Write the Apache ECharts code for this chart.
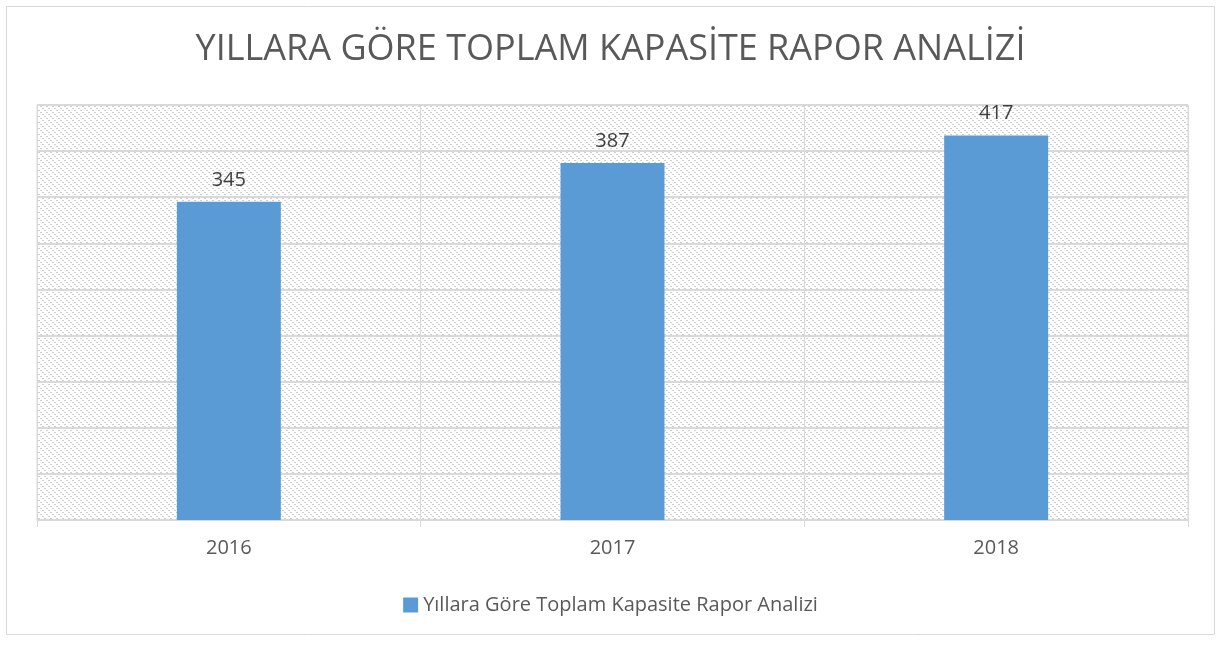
<!DOCTYPE html>
<html>
<head>
<meta charset="utf-8">
<script src="https://cdn.jsdelivr.net/npm/echarts@6/dist/echarts.min.js"></script>
<style>
  html, body { margin: 0; padding: 0; background: #fff; }
  #chart { width: 1221px; height: 646px; }
</style>
</head>
<body>
<div id="chart"></div>
<script>
const years = ['2016', '2017', '2018']
const capacity = [345, 387, 417]
const seriesName = 'Yıllara Göre Toplam Kapasite Rapor Analizi'
const titleText = 'YILLARA GÖRE TOPLAM KAPASİTE RAPOR ANALİZİ'

// hatch pattern, like the excel "downward diagonal" fill
function makeHatch () {
  const n = 6
  const c = document.createElement('canvas')
  c.width = n
  c.height = n
  const ctx = c.getContext('2d')
  ctx.fillStyle = '#fff'
  ctx.fillRect(0, 0, n, n)
  ctx.fillStyle = '#cfcfcf'
  for (let y = 0; y < n; y++) {
    if (y % 2) continue
    ctx.fillRect(y, y, 2, 1)
  }
  return c
}

const chart = echarts.init(document.getElementById('chart'))
const gray = '#d9d9d9'
const font = 'Open Sans'

chart.setOption({
  animation: false,
  title: {
    text: titleText,
    left: 'center',
    top: 27,
    textStyle: {
      fontFamily: font,
      fontWeight: 'normal',
      fontSize: 36,
      color: '#595959'
    }
  },
  graphic: [{
    type: 'rect',
    shape: { x: 6.5, y: 6.5, width: 1208, height: 628 },
    style: { fill: 'none', stroke: gray, lineWidth: 1 },
    silent: true,
    z: -10
  }],
  legend: {
    bottom: 26,
    left: 'center',
    icon: 'rect',
    itemWidth: 15,
    itemHeight: 15,
    itemGap: 6,
    textStyle: { fontFamily: font, fontSize: 20, color: '#595959' },
    data: [seriesName]
  },
  grid: {
    left: 37,
    right: 33,
    top: 105,
    bottom: 126,
    show: true,
    backgroundColor: { image: makeHatch(), repeat: 'repeat' },
    borderColor: gray,
    borderWidth: 1
  },
  xAxis: {
    type: 'category',
    data: years,
    axisLine: { lineStyle: { color: gray } },
    axisTick: { show: true, length: 7, lineStyle: { color: gray } },
    splitLine: { show: true, lineStyle: { color: gray } },
    axisLabel: { fontFamily: font, fontSize: 20, color: '#595959', margin: 18 }
  },
  yAxis: {
    type: 'value',
    min: 0,
    max: 450,
    interval: 50,
    axisLabel: { show: false },
    axisLine: { show: false },
    axisTick: { show: false },
    splitLine: { lineStyle: { color: gray, width: 2 } }
  },
  series: [{
    name: seriesName,
    type: 'bar',
    data: capacity,
    barWidth: 104,
    itemStyle: { color: '#5b9bd5' },
    label: {
      show: true,
      position: 'top',
      distance: 12,
      fontFamily: font,
      fontSize: 20,
      color: '#404040'
    }
  }]
})
</script>
</body>
</html>
